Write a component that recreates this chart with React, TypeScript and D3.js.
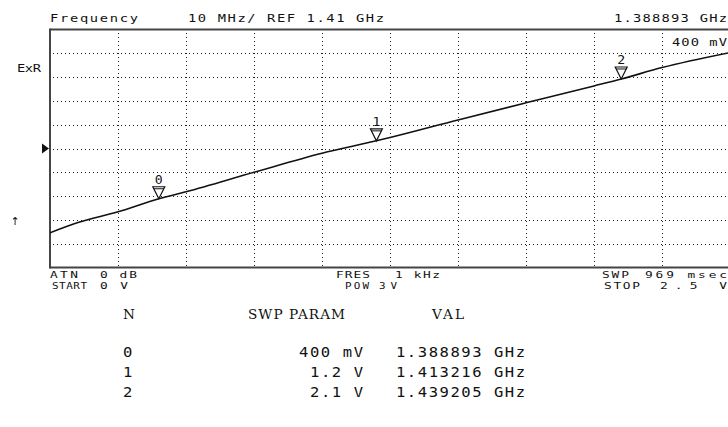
import React, { useEffect, useRef } from "react";
import * as d3 from "d3";

const sweepVolts = [0, 0.1, 0.25, 0.4, 0.5, 0.75, 1.0, 1.2, 1.25, 1.5, 1.75, 2.0, 2.1, 2.25, 2.5];
const traceGHz = [1.3746, 1.3788, 1.3834, 1.388893, 1.3918, 1.4, 1.408, 1.413216, 1.4146, 1.422, 1.4292, 1.4363, 1.439205, 1.444, 1.4503];

// markers
const markerIds = ["0", "1", "2"];
const markerVolts = [0.4, 1.2, 2.1];
const markerGHz = [1.388893, 1.413216, 1.439205];
const markerParamLabels = ["400 mV", "1.2 V", "2.1 V"];
const markerValLabels = ["1.388893 GHz", "1.413216 GHz", "1.439205 GHz"];

const sweepDomain = [0, 2.5];
const sweepStep = 0.25;
const freqDomain = [1.36, 1.46];
const refGHz = 1.41;

const MONO = "'DejaVu Sans Mono', monospace";
const SERIF = "'DejaVu Serif', serif";

type TxtOpts = { anchor?: string, size?: number, w?: number, sx?: number, font?: string };

export default function App() {
    const ref = useRef<SVGSVGElement>(null);

    useEffect(() => {
        const svg = d3.select(ref.current);
        svg.selectAll("*").remove();

        const left = 50, right = 730, top = 29.5, bottom = 267.5;
        const x = d3.scaleLinear().domain(sweepDomain).range([left, right]);
        const y = d3.scaleLinear().domain(freqDomain).range([bottom, top]);

        // text helper: w = width the text should span (spacing adjusted), sx = glyph stretch
        const txt = (px: number, py: number, s: string, o: TxtOpts = {}) => {
            const sx = o.sx ?? 1.25;
            const t = svg.append("text")
                .attr("transform", `translate(${px},${py}) scale(${sx},1)`)
                .attr("text-anchor", o.anchor ?? "start")
                .attr("font-family", o.font ?? MONO)
                .attr("font-size", o.size ?? 11)
                .attr("fill", "#111")
                .text(s);
            if (o.w) t.attr("textLength", o.w / sx).attr("lengthAdjust", "spacing");
            return t;
        };

        // dotted grid
        const grid = svg.append("g").attr("fill", "#222");
        d3.range(sweepDomain[0] + sweepStep, sweepDomain[1] - 0.01, sweepStep).forEach(v => {
            const gx = Math.round(x(v));
            d3.range(Math.ceil(top) + 3, bottom - 1, 4).forEach(gy => {
                grid.append("rect").attr("x", gx).attr("y", gy).attr("width", 1).attr("height", 1);
            });
        });
        y.ticks(10).slice(1, -1).forEach(v => {
            const gy = Math.round(y(v)) + 0.5;
            svg.append("line")
                .attr("x1", left + 3).attr("x2", right).attr("y1", gy).attr("y2", gy)
                .attr("stroke", "#222").attr("stroke-width", 1)
                .attr("stroke-dasharray", "1,3");
        });

        // frame (right edge falls outside the window)
        const frame = svg.append("g").attr("stroke", "#444").attr("stroke-width", 2);
        frame.append("line").attr("x1", left).attr("x2", right).attr("y1", top).attr("y2", top);
        frame.append("line").attr("x1", left).attr("x2", right).attr("y1", bottom).attr("y2", bottom);
        frame.append("line").attr("x1", left).attr("x2", left).attr("y1", top - 1).attr("y2", bottom + 1);

        // trace
        svg.append("clipPath").attr("id", "plot-clip")
            .append("rect").attr("x", left).attr("y", top).attr("width", right - left).attr("height", bottom - top);
        const line = d3.line<number>()
            .x((d, i) => x(sweepVolts[i]))
            .y(d => y(d))
            .curve(d3.curveMonotoneX);
        svg.append("path")
            .datum(traceGHz)
            .attr("clip-path", "url(#plot-clip)")
            .attr("fill", "none")
            .attr("stroke", "#111")
            .attr("stroke-width", 1.6)
            .attr("d", line);

        // markers
        markerIds.forEach((id, i) => {
            const mx = x(markerVolts[i]), my = y(markerGHz[i]);
            svg.append("path")
                .attr("d", `M${mx - 6},${my - 12}L${mx + 6},${my - 12}L${mx},${my}Z`)
                .attr("fill", "#fff")
                .attr("stroke", "#111")
                .attr("stroke-width", 1.2);
            svg.append("line")
                .attr("x1", mx - 5).attr("x2", mx + 5).attr("y1", my - 10).attr("y2", my - 10)
                .attr("stroke", "#111").attr("stroke-width", 1);
            txt(mx, my - 15, id, { anchor: "middle", size: 12, sx: 1.1 });
        });

        // reference level pointer and left side symbols
        const ry = y(refGHz);
        svg.append("path").attr("d", `M42,${ry - 5}L49,${ry}L42,${ry + 5}Z`).attr("fill", "#111");
        txt(17, 72, "ExR", { w: 24 });
        txt(15, 225, "\u2191", { anchor: "middle", sx: 1, font: "'DejaVu Sans', sans-serif" });

        // header
        txt(50, 22, "Frequency", { w: 88 });
        txt(188, 22, "10 MHz/ REF 1.41 GHz", { w: 196 });
        txt(614, 22, "1.388893 GHz", { w: 113 });
        svg.append("rect").attr("x", 668).attr("y", 35).attr("width", 62).attr("height", 13).attr("fill", "#fff");
        txt(672, 46, "400 mV", { w: 55 });

        // footer
        const fs = { size: 9.5, sx: 1.35 };
        txt(50, 278, "ATN", { ...fs, w: 28 });
        txt(100, 278, "0 dB", { ...fs, w: 37 });
        txt(52, 288.5, "START", { ...fs, w: 35, sx: 1.15 });
        txt(100, 288.5, "0 V", { ...fs, w: 28 });
        txt(336, 278, "FRES", { ...fs, w: 34 });
        txt(395, 278, "1 kHz", { ...fs, w: 45 });
        txt(345, 288.5, "POW", { ...fs, w: 24, sx: 1.15 });
        txt(379, 288.5, "3 V", { ...fs, w: 18, sx: 1.15 });
        txt(602, 278, "SWP", { ...fs, w: 27 });
        txt(645, 278, "969 msec", { ...fs, w: 82 });
        txt(604, 288.5, "STOP", { ...fs, w: 36 });
        txt(660, 288.5, "2.5 V", { ...fs, w: 67 });

        // marker table
        const hd = { size: 13, sx: 1.05, font: SERIF };
        txt(123, 319, "N", hd);
        txt(248, 319, "SWP PARAM", { ...hd, w: 97 });
        txt(432, 319, "VAL", { ...hd, w: 32 });
        markerIds.forEach((id, i) => {
            const ty = 357 + i * 20;
            const rw = { size: 13.5, sx: 1.15 };
            const pl = markerParamLabels[i];
            txt(123, ty, id, rw);
            txt(363 - (pl.length * 11 - 2), ty, pl, { ...rw, w: pl.length * 11 - 2 });
            txt(396, ty, markerValLabels[i], { ...rw, w: 129 });
        });
    }, []);

    return <svg ref={ref} width={728} height={427}
                style={{position: "absolute", left: 0, top: 0, background: "#fff"}} />;
}
